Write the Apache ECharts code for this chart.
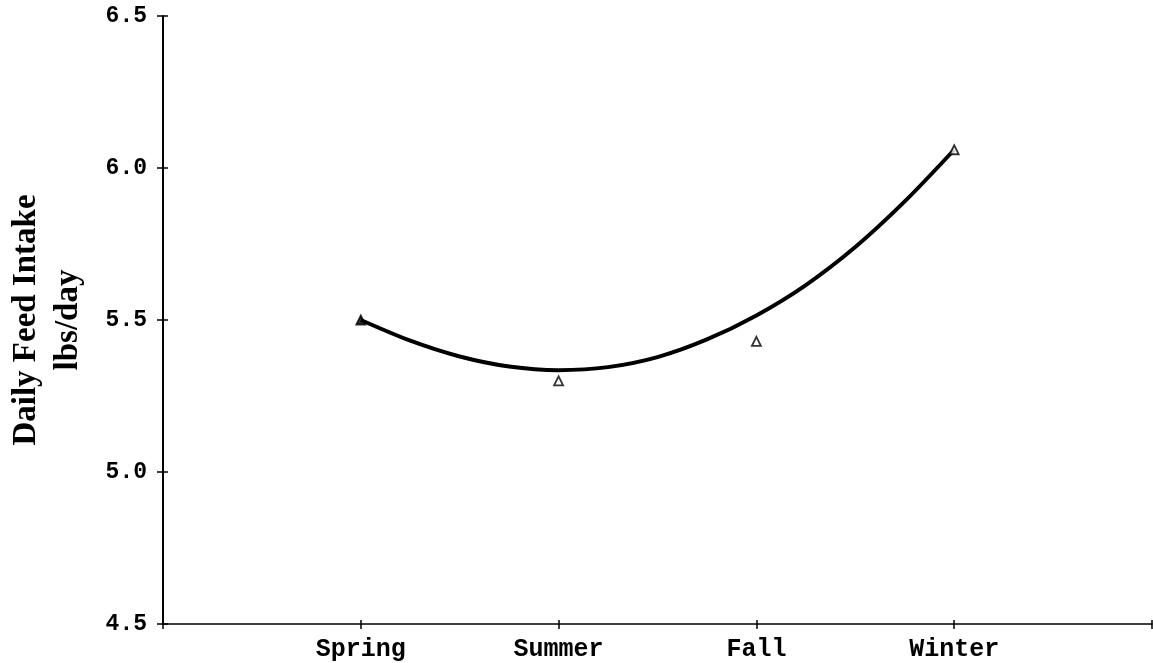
<!DOCTYPE html>
<html>
<head>
<meta charset="utf-8">
<title>Daily Feed Intake by Season</title>
<script src="https://cdn.jsdelivr.net/npm/echarts@6/dist/echarts.min.js"></script>
<style>
  html, body { margin: 0; padding: 0; background: #fff; }
  #main { width: 1153px; height: 663px; }
</style>
</head>
<body>
<div id="main"></div>
<script>
// season categories sit at x = 1..4 on a 0..5 axis
var seasons = ['Spring', 'Summer', 'Fall', 'Winter']
var seasonPos = [1, 2, 3, 4]
// observed means (triangles)
var observed = [5.50, 5.30, 5.43, 6.06]
// fitted curve at quarter steps
var curveX = [1, 1.25, 1.5, 1.75, 2, 2.25, 2.5, 2.75, 3, 3.25, 3.5, 3.75, 4]
var curveY = [5.50, 5.432, 5.380, 5.347, 5.335, 5.345, 5.378, 5.436, 5.515, 5.615, 5.74, 5.89, 6.06]

var chart = echarts.init(document.getElementById('main'))

var obsData = []
for (var i = 0; i < seasons.length; i++) {
  obsData.push({
    value: [seasonPos[i], observed[i]],
    // spring point is hidden under the thick end of the curve
    itemStyle: i === 0 ? { color: '#000' } : null
  })
}
var curveData = []
for (var j = 0; j < curveX.length; j++) {
  curveData.push([curveX[j], curveY[j]])
}

var labelFont = {
  color: '#000',
  fontFamily: 'Liberation Mono',
  fontWeight: 'bold'
}

var option = {
  backgroundColor: '#fff',
  animation: false,
  grid: {
    left: 163,
    right: 1,
    top: 16,
    bottom: 39,
    outerBoundsMode: 'none',
    containLabel: false
  },
  xAxis: [
    {
      type: 'value',
      min: 0,
      max: 5,
      interval: 1,
      splitLine: { show: false },
      axisLine: { lineStyle: { color: '#000', width: 1.5 } },
      axisTick: { show: true, length: 5, lineStyle: { color: '#000', width: 1.5 } },
      axisLabel: Object.assign({
        fontSize: 25,
        margin: 13,
        formatter: function (v) {
          var k = seasonPos.indexOf(v)
          return k >= 0 ? seasons[k] : ''
        }
      }, labelFont)
    },
    {
      // inside half of the crossing ticks
      type: 'value',
      position: 'bottom',
      min: 0,
      max: 5,
      interval: 1,
      splitLine: { show: false },
      axisLine: { show: false },
      axisTick: { show: true, inside: true, length: 4, lineStyle: { color: '#000', width: 1.5 } },
      axisLabel: { show: false }
    }
  ],
  yAxis: [
    {
      type: 'value',
      min: 4.5,
      max: 6.5,
      interval: 0.5,
      splitLine: { show: false },
      axisLine: { show: true, lineStyle: { color: '#000', width: 2 } },
      axisTick: { show: true, length: 6, lineStyle: { color: '#000', width: 1.5 } },
      axisLabel: Object.assign({
        fontSize: 23,
        margin: 16,
        formatter: function (v) { return v.toFixed(1) }
      }, labelFont),
      name: 'Daily Feed Intake\nlbs/day',
      nameLocation: 'middle',
      nameGap: 74,
      nameRotate: 90,
      nameTextStyle: {
        color: '#000',
        fontFamily: 'Liberation Serif',
        fontWeight: 'bold',
        fontSize: 33,
        lineHeight: 42
      }
    },
    {
      type: 'value',
      position: 'left',
      min: 4.5,
      max: 6.5,
      interval: 0.5,
      splitLine: { show: false },
      axisLine: { show: false },
      axisTick: { show: true, inside: true, length: 5, lineStyle: { color: '#000', width: 1.5 } },
      axisLabel: { show: false }
    }
  ],
  series: [
    {
      name: 'fit',
      type: 'line',
      data: curveData,
      smooth: 0.3,
      showSymbol: false,
      lineStyle: { color: '#000', width: 4 }
    },
    {
      name: 'observed',
      type: 'scatter',
      data: obsData,
      symbol: 'triangle',
      symbolSize: 9,
      itemStyle: {
        color: '#fff',
        borderColor: '#000',
        borderWidth: 1.8
      },
      z: 3
    }
  ]
}

chart.setOption(option)
</script>
</body>
</html>
